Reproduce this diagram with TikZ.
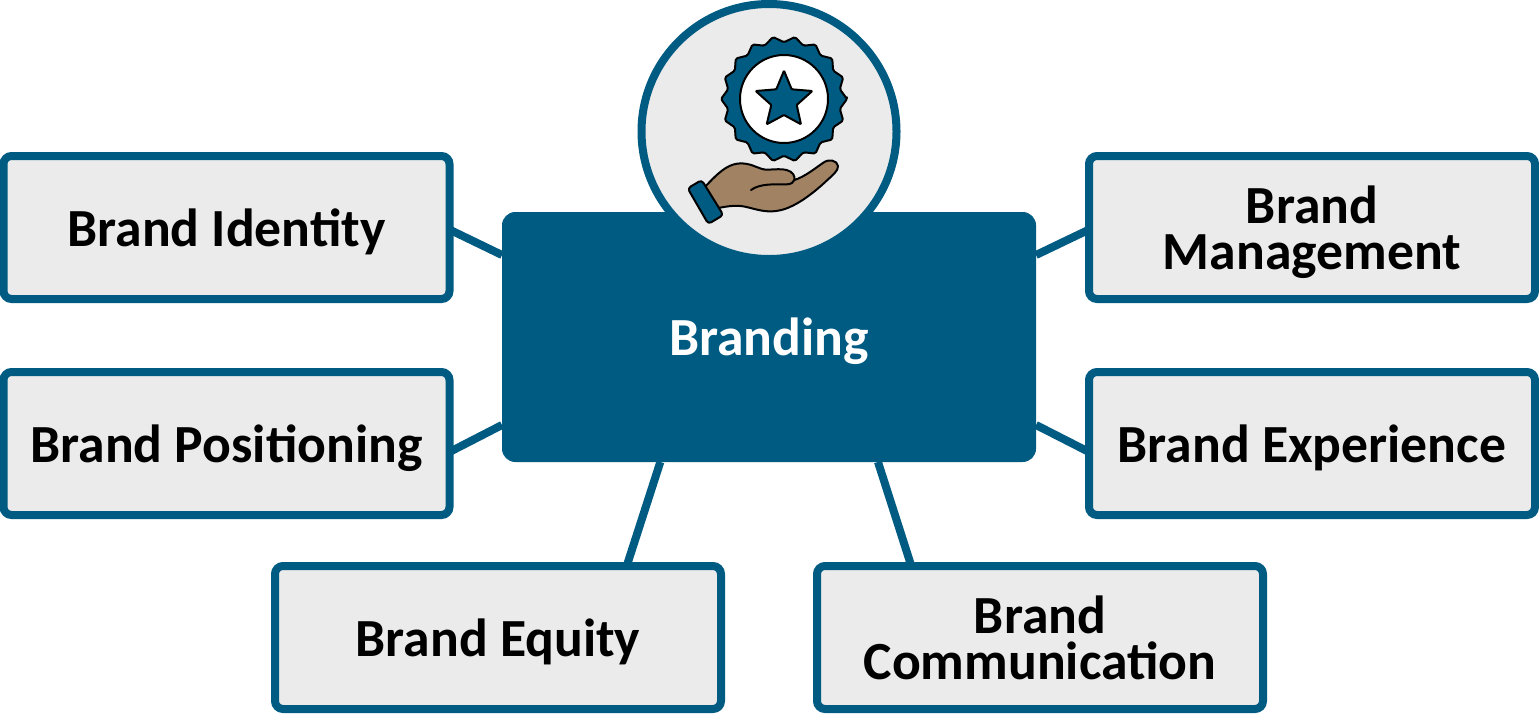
\documentclass[tikz,border=0pt]{standalone}
\usepackage{fontspec}
\setmainfont{Carlito}
\usetikzlibrary{backgrounds,calc}
\definecolor{brandblue}{HTML}{005B82}
\definecolor{panelgray}{HTML}{EBEBEB}
\definecolor{handbrown}{HTML}{A18262}
\newcommand\hiS{\rule{0pt}{40pt}}
\newcommand\loS{\rule[-12pt]{0pt}{12pt}}
\tikzset{
  topicbox/.style={draw=brandblue,fill=panelgray,line width=6pt,rounded corners=6pt,
    minimum width=334.5pt,minimum height=107.25pt,outer sep=0pt,inner sep=0pt,
    align=center,font=\fontsize{40.25}{34.5}\selectfont\bfseries,text=black},
  hubbox/.style={fill=brandblue,rounded corners=10pt,minimum width=400.5pt,minimum height=187.5pt,
    outer sep=0pt,inner sep=0pt,text=white,font=\fontsize{40.25}{40}\selectfont\bfseries},
  iconring/.style={circle,draw=brandblue,fill=panelgray,line width=6pt,minimum size=191.25pt,outer sep=0pt,inner sep=0pt},
  link/.style={draw=brandblue,line width=6pt},
  ink/.style={draw=black,line width=1.5pt,line join=round,line cap=round},
}
\begin{document}
\begin{tikzpicture}[x=.75pt,y=-.75pt]
\useasboundingbox (0,0) rectangle (1539,714);
\node[hubbox] (hub) at (769,337) {\hiS Branding\loS};
\node[topicbox] (identity) at (226.5,227.5) {\hiS Brand Identity\loS};
\node[topicbox] (positioning) at (226.5,443.5) {\hiS Brand Positioning\loS};
\node[topicbox] (equity) at (498,637.5) {\hiS Brand Equity\loS};
\node[topicbox] (communication) at (1040,637.5) {\hiS Brand\\Communication\loS};
\node[topicbox] (management) at (1312,227.5) {\hiS Brand\\Management\loS};
\node[topicbox] (experience) at (1312,443.5) {\hiS Brand Experience\loS};
\node[iconring] (ring) at (769,131.5) {};
\begin{pgfonlayer}{background}
\draw[link] ($(hub.west)+(0,-82)$) -- ($(identity.east)+(0,2.1)$);
\draw[link] ($(hub.west)+(0,88)$) -- ($(positioning.east)+(0,8.5)$);
\draw[link] ($(hub.east)+(0,-82)$) -- ($(management.west)+(0,2.1)$);
\draw[link] ($(hub.east)+(0,88)$) -- ($(experience.west)+(0,8.5)$);
\draw[link] ($(hub.south)+(-108.7,0)$) -- ($(equity.north)+(128.7,0)$);
\draw[link] ($(hub.south)+(109,0)$) -- ($(communication.north)+(-128.7,0)$);
\end{pgfonlayer}
% badge
\filldraw[ink,fill=brandblue,rounded corners=1.2pt]
  (847,99)
  \foreach \k in {1,...,18}{
    -- ({784+56.7*cos(\k*20-10)},{99-56.7*sin(\k*20-10)})
    -- ({784+63*cos(\k*20)},{99-63*sin(\k*20)})
  } -- cycle;
\filldraw[ink,fill=white] (784,99) circle[radius=44];
\filldraw[ink,fill=brandblue,rounded corners=.6pt]
  (784,70.7) -- (791.7,89.3) -- (812.3,91) -- (796.7,105) -- (801,124.3)
  -- (784,115) -- (766.7,124.3) -- (771.3,105) -- (755.7,91) -- (776.3,89.3) -- cycle;
% hand
\begin{scope}[shift={(680,150)},x=.25pt,y=-.25pt]
\filldraw[ink,fill=handbrown]
  (75,110) -- (85,100) .. controls (125,58) and (150,40) .. (185,40)
  .. controls (225,42) and (235,60) .. (265,59)
  .. controls (285,58) and (305,56) .. (320,60)
  .. controls (338,65) and (346,78) .. (343,90)
  .. controls (375,80) and (405,55) .. (430,38)
  .. controls (448,25) and (472,32) .. (474,48)
  .. controls (476,62) and (455,78) .. (440,92)
  .. controls (405,125) and (350,170) .. (300,181)
  .. controls (260,190) and (230,178) .. (195,170)
  .. controls (170,165) and (145,168) .. (115,174) -- cycle;
\draw[ink] (213,120) .. controls (240,100) and (285,103) .. (320,103)
  .. controls (333,103) and (341,97) .. (343,90);
\filldraw[ink,fill=brandblue,rounded corners=2.5pt]
  (23,115) -- (65,90) -- (130,195) -- (85,222) -- cycle;
\end{scope}
\end{tikzpicture}
\end{document}
